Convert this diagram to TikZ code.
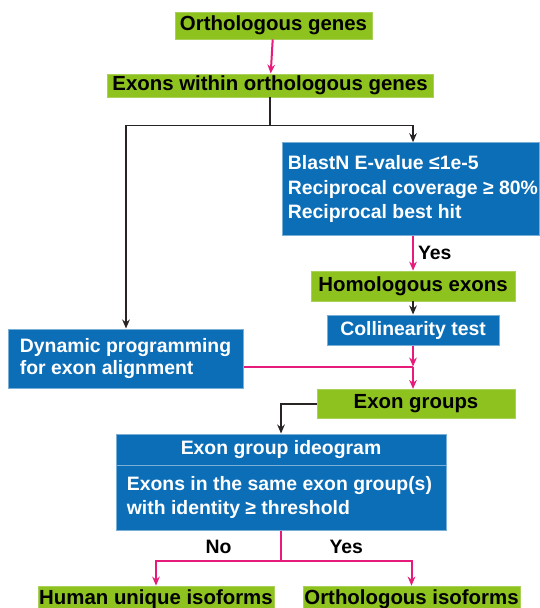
\documentclass[tikz,border=0pt]{standalone}
\usepackage{fontspec}
\setmainfont{Liberation Sans}
\usepackage{tikz}
\usetikzlibrary{arrows.meta, positioning, calc}
\definecolor{exongreen}{RGB}{141,194,31}
\definecolor{exonblue}{RGB}{12,110,183}
\definecolor{exonpink}{RGB}{230,27,122}
\definecolor{linegray}{RGB}{40,36,36}

\tikzset{
    greenbox/.style={rectangle,fill=exongreen,draw=exongreen!75!white,line width=0.4pt,inner sep=0pt,
        font=\fontsize{10.2}{12}\selectfont\bfseries,text=black},
    bluebox/.style={rectangle,fill=exonblue,draw=exonblue!55!white,line width=0.5pt,inner sep=0pt,
        font=\fontsize{9.7}{12.2}\selectfont\bfseries,text=white},
    bluetext/.style={anchor=west,inner sep=0pt,align=left,text=white,font=\fontsize{9.7}{#1}\selectfont\bfseries},
    pinkline/.style={draw=exonpink,line width=1pt},
    pinkarrow/.style={pinkline,-{Stealth[length=4.5pt,width=3.8pt]}},
    greyline/.style={draw=linegray,line width=0.9pt},
    greyarrow/.style={greyline,-{Stealth[length=4.5pt,width=3.8pt]}},
    answer/.style={font=\fontsize{9.7}{12}\selectfont\bfseries,text=black,inner sep=1pt}
}

\begin{document}
\begin{tikzpicture}
    \useasboundingbox (0,0) rectangle (9.472,-10.684);

    % Genes and exons
    \node[greenbox,minimum width=3.462cm,minimum height=0.474cm] (genes) at (4.806,-0.448) {Orthologous genes};
    \node[greenbox,minimum width=5.729cm,minimum height=0.404cm] (exons) at (4.745,-1.502) {Exons within orthologous genes};

    % Blast filter
    \node[bluebox,minimum width=4.516cm,minimum height=1.625cm] (blast) at (7.214,-3.321) {};
    \node[bluetext=12.25] (blasttext) at ($(blast.west)+(0.105,0)$)
        {BlastN E-value ≤1e-5\\Reciprocal coverage ≥ 80\%\\Reciprocal best hit};
    \node[greenbox,minimum width=3.585cm,minimum height=0.527cm] (homol) at (7.258,-5.026) {Homologous exons};
    \node[bluebox,minimum width=3.023cm,minimum height=0.527cm] (colli) at (7.258,-5.799) {Collinearity test};

    % Dynamic programming
    \node[bluebox,minimum width=4.112cm,minimum height=1.037cm] (dynprog) at (2.214,-6.300) {};
    \node[bluetext=11] (dyntext) at ($(dynprog.west)+(0.193,0)$) {Dynamic programming\\for exon alignment};

    % Exon groups
    \node[greenbox,minimum width=3.479cm,minimum height=0.518cm] (groups) at (7.310,-7.100) {Exon groups};

    % Ideogram
    \node[bluebox,minimum width=5.799cm,minimum height=0.545cm] (ideotitle) at (4.938,-7.899) {Exon group ideogram};
    \node[bluebox,minimum width=5.799cm,minimum height=1.142cm] (ideobody) at (4.938,-8.743) {};
    \node[bluetext=12] (ideotext) at ($(ideobody.west)+(0.193,0)$) {Exons in the same exon group(s)\\with identity ≥ threshold};

    % Isoforms
    \node[greenbox,minimum width=4.147cm,minimum height=0.474cm] (human) at (2.741,-10.535) {Human unique isoforms};
    \node[greenbox,minimum width=3.813cm,minimum height=0.474cm] (orthiso) at (7.231,-10.535) {Orthologous isoforms};

    % Connectors
    \coordinate (split) at ($(exons.south)+(0,-0.495)$);
    \coordinate (merge) at ($(colli.south)+(0,-0.370)$);
    \coordinate (fork) at ($(ideobody.south)+(0,-0.528)$);

    \draw[pinkarrow] (genes) -- (exons);
    \draw[greyline] (exons.south) -- (split);
    \draw[greyarrow] (split) -| (dynprog.north);
    \draw[greyarrow] (split) -| (homol.north |- blast.north);
    \draw[pinkarrow] (homol.north |- blast.south) -- node[answer,right=1pt] {Yes} (homol.north);
    \draw[greyarrow] (homol) -- (colli);
    \draw[pinkarrow] (colli.south) -- (merge);
    \draw[pinkline] (merge) -- (merge -| dynprog.east);
    \draw[pinkarrow] (merge) -- (merge |- groups.north);
    \draw[greyarrow] (groups.west) -| (ideotitle.north);
    \draw[pinkline] (ideobody.south) -- (fork);
    \draw[pinkarrow] (fork) -| node[answer,pos=0.25,above=2pt] {No} (human.north);
    \draw[pinkarrow] (fork) -| node[answer,pos=0.25,above=2pt] {Yes} (orthiso.north);
\end{tikzpicture}
\end{document}
